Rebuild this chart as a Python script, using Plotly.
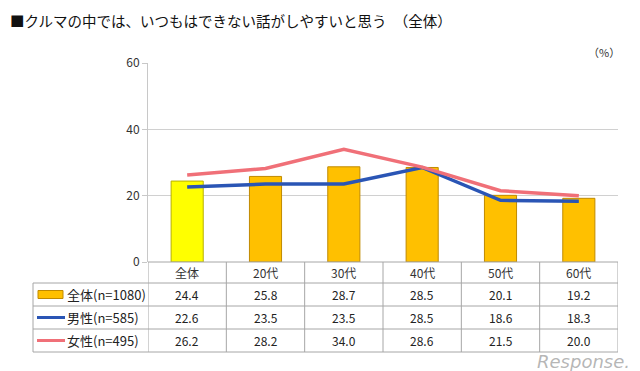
import plotly.graph_objects as go

categories = ["全体", "20代", "30代", "40代", "50代", "60代"]
total = [24.4, 25.8, 28.7, 28.5, 20.1, 19.2]
male = [22.6, 23.5, 23.5, 28.5, 18.6, 18.3]
female = [26.2, 28.2, 34.0, 28.6, 21.5, 20.0]
series_names = ["全体(n=1080)", "男性(n=585)", "女性(n=495)"]
title_text = "■クルマの中では、いつもはできない話がしやすいと思う　（全体）"
y_ticks = [0, 20, 40, 60]

FONT = "Noto Sans CJK JP, Noto Sans, sans-serif"
W, H = 640, 371
L, R, T, B = 148, 22, 63, 109
plot_h = H - T - B

def py(pix):
    return (H - B - pix) / plot_h

def px(pix):
    return (pix - L) / (W - L - R)

bar_colors = ["#FFFF00"] + ["#FFC000"] * (len(categories) - 1)
bar_lines = ["#B8B000"] + ["#C08A00"] * (len(categories) - 1)

fig = go.Figure()
fig.add_trace(go.Bar(x=list(range(len(categories))), y=total, width=0.41,
                     marker=dict(color=bar_colors, line=dict(color=bar_lines, width=1)),
                     name=series_names[0], showlegend=False))
fig.add_trace(go.Scatter(x=list(range(len(categories))), y=male, mode="lines",
                         line=dict(color="#2A55B5", width=3.5), name=series_names[1], showlegend=False))
fig.add_trace(go.Scatter(x=list(range(len(categories))), y=female, mode="lines",
                         line=dict(color="#F07078", width=3.5), name=series_names[2], showlegend=False))

grid = "#A6A6A6"
shapes = []
rows_pix = [262, 283, 306, 329, 352]
n = len(categories)
shapes.append(dict(type="line", xref="paper", yref="paper", x0=0, x1=1, y0=py(262), y1=py(262),
                   line=dict(color=grid, width=1)))
for rp in rows_pix[1:]:
    shapes.append(dict(type="line", xref="paper", yref="paper", x0=px(33), x1=1, y0=py(rp), y1=py(rp),
                       line=dict(color=grid, width=1)))
for i in range(n + 1):
    shapes.append(dict(type="line", xref="x", yref="paper", x0=i - 0.5, x1=i - 0.5,
                       y0=py(262), y1=py(352), line=dict(color=grid, width=1)))
shapes.append(dict(type="line", xref="paper", yref="paper", x0=px(33), x1=px(33),
                   y0=py(283), y1=py(352), line=dict(color=grid, width=1)))

row_centers = [(rows_pix[i] + rows_pix[i + 1]) / 2 for i in range(len(rows_pix) - 1)]
shapes.append(dict(type="rect", xref="paper", yref="paper", x0=px(38), x1=px(63),
                   y0=py(row_centers[1] - 4), y1=py(row_centers[1] + 4),
                   fillcolor="#FFC000", line=dict(color="#C08A00", width=1)))
shapes.append(dict(type="line", xref="paper", yref="paper", x0=px(37), x1=px(65),
                   y0=py(row_centers[2]), y1=py(row_centers[2]), line=dict(color="#2A55B5", width=3)))
shapes.append(dict(type="line", xref="paper", yref="paper", x0=px(37), x1=px(65),
                   y0=py(row_centers[3]), y1=py(row_centers[3]), line=dict(color="#F07078", width=3)))

annotations = []
annotations.append(dict(text=title_text, xref="paper", yref="paper", x=px(8), y=py(20),
                        xanchor="left", yanchor="middle", showarrow=False,
                        font=dict(size=14.5, color="#111111", family=FONT)))
annotations.append(dict(text="（%）", xref="paper", yref="paper", x=px(622), y=py(52),
                        xanchor="right", yanchor="middle", showarrow=False,
                        font=dict(size=11, color="#333333", family=FONT)))
for i, c in enumerate(categories):
    annotations.append(dict(text=c, xref="x", yref="paper", x=i, y=py(row_centers[0]),
                            xanchor="center", yanchor="middle",
                            showarrow=False, font=dict(size=12, color="#333333", family=FONT)))
for r, vals in enumerate([total, male, female]):
    yc = py(row_centers[r + 1])
    annotations.append(dict(text=series_names[r], xref="paper", yref="paper", x=px(65), y=yc,
                            xanchor="left", yanchor="middle", showarrow=False,
                            font=dict(size=13, color="#222222", family=FONT)))
    for i, v in enumerate(vals):
        annotations.append(dict(text=f"{v:.1f}", xref="x", yref="paper", x=i, y=yc,
                                xanchor="center", yanchor="middle",
                                showarrow=False, font=dict(size=12, color="#222222", family=FONT)))
annotations.append(dict(text="<i>Response.</i>", xref="paper", yref="paper", x=px(632), y=py(361),
                        xanchor="right", yanchor="middle", showarrow=False,
                        font=dict(size=18, color="rgba(150,150,150,0.7)", family="DejaVu Sans")))

fig.update_layout(
    width=W, height=H, margin=dict(l=L, r=R, t=T, b=B),
    paper_bgcolor="white", plot_bgcolor="white",
    font=dict(family=FONT, color="#333333"),
    xaxis=dict(range=[-0.5, n - 0.5], showticklabels=False, showgrid=False, zeroline=False,
               showline=False, ticks=""),
    yaxis=dict(range=[0, 60], tickvals=y_ticks, showgrid=True, gridcolor="#D0D0D0", gridwidth=1,
               zeroline=False, showline=True, linecolor="#C8C8C8", linewidth=1,
               ticks="outside", ticklen=5, tickcolor="#C8C8C8",
               tickfont=dict(size=12, color="#333333", family=FONT)),
    shapes=shapes, annotations=annotations, bargap=0.6,
)

fig.write_html("out.html", config={"displayModeBar": False},
               post_script="document.body.style.margin='0';document.body.style.overflow='hidden';")
